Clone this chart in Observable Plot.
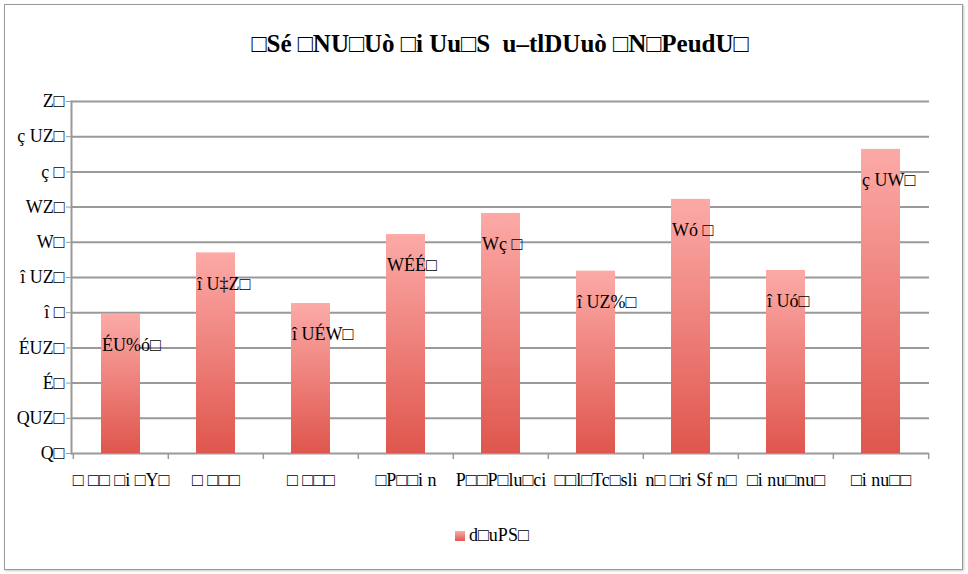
<!DOCTYPE html>
<html><head><meta charset="utf-8">
<script src="https://cdn.jsdelivr.net/npm/d3@7"></script>
<script src="https://cdn.jsdelivr.net/npm/@observablehq/plot@0.6"></script>
<style>
body{margin:0;background:#fff;}
#wrap{position:relative;width:968px;height:574px;overflow:hidden;font-family:"Liberation Serif",serif;background:#fff;}
#frame{position:absolute;left:4px;top:4px;width:959px;height:566px;border:1.5px solid #9a9a9a;box-sizing:border-box;box-shadow:1px 1px 2px #c8c8c8;}
#title{position:absolute;left:71px;width:858px;top:30px;text-align:center;font-weight:bold;font-size:25px;white-space:pre;}
#legend{position:absolute;top:525px;left:455px;font-size:18px;display:flex;align-items:center;gap:4px;}
#legend .sw{width:10px;height:10px;background:linear-gradient(#fbaaa7,#e0584f);}
#chart{position:absolute;left:0;top:0;}
</style></head>
<body>
<div id="wrap">
  <div id="frame"></div>
  <div id="chart"></div>
  <div id="title"></div>
  <div id="legend"><span class="sw"></span><span id="legtext"></span></div>
</div>
<script>
const titleText = "□Sé □NU□Uò □i Uu□S  u–tlDUuò □N□PeudU□";
const seriesName = "d□uPS□";
const categories = ["□ □□ □i □Y□", "□ □□□", "□ □□□", "□P□□i n", "P□□P□lu□ci", "□□l□Tc□sli", "n□ □ri Sf n□", "□i nu□nu□", "□i nu□□"];
const values = [1.98, 2.85, 2.13, 3.11, 3.41, 2.59, 3.61, 2.60, 4.32];
const valueLabels = ["ÉU%ó□", "î U‡Z□", "î UÉW□", "WÉÉ□", "Wç □", "î UZ%□", "Wó □", "î Uó□", "ç UW□"];
const yTicks = [0, 0.5, 1, 1.5, 2, 2.5, 3, 3.5, 4, 4.5, 5];
const yTickLabels = ["Q□", "QUZ□", "É□", "ÉUZ□", "î □", "î UZ□", "W□", "WZ□", "ç □", "ç UZ□", "Z□"];

document.getElementById("title").textContent = titleText;
document.getElementById("legtext").textContent = seriesName;

const idx = categories.map((c, i) => i);
const data = categories.map((c, i) => ({i, category: c, value: values[i], label: valueLabels[i]}));
const tickMap = new Map(yTicks.map((t, i) => [t, yTickLabels[i]]));
const step = (968 - 71 - 39) / categories.length;

const plot = Plot.plot({
  width: 968, height: 500,
  marginLeft: 71, marginRight: 39, marginTop: 101, marginBottom: 47,
  style: {fontFamily: "Liberation Serif", fontSize: "18px", background: "transparent", color: "#000"},
  x: {type: "band", domain: idx, paddingInner: 0.59, paddingOuter: 0.295, label: null},
  y: {domain: [0, 5], label: null},
  marks: [
    Plot.ruleY(yTicks, {stroke: "#999", strokeWidth: 2}),
    Plot.axisY({ticks: yTicks, tickFormat: d => tickMap.get(d), tickSize: 5, tickPadding: 2, stroke: "#999", fontSize: 18, label: null}),
    Plot.frame({anchor: "left", stroke: "#999", strokeWidth: 2}),
    Plot.barY(data, {x: "i", y: "value", fill: "url(#barGrad)", style: "filter: drop-shadow(1px 1px 1.5px rgba(0,0,0,0.25))"}),
    Plot.ruleX(idx, {x: d => d, y1: 0, y2: -0.085, dx: -step / 2, stroke: "#999", strokeWidth: 1.5}),
    Plot.ruleX(idx.slice(-1), {x: d => d, y1: 0, y2: -0.085, dx: step / 2, stroke: "#999", strokeWidth: 1.5}),
    Plot.axisX({tickSize: 0, tickPadding: 20, fontSize: 18, tickFormat: i => categories[i], label: null}),
    Plot.text(data, {x: "i", y: "value", text: "label", dy: 31, dx: -19, textAnchor: "start", fontSize: 18, fill: "#000"})
  ]
});

const ns = "http://www.w3.org/2000/svg";
const defs = document.createElementNS(ns, "defs");
const grad = document.createElementNS(ns, "linearGradient");
grad.setAttribute("id", "barGrad");
grad.setAttribute("x1", "0"); grad.setAttribute("y1", "0");
grad.setAttribute("x2", "0"); grad.setAttribute("y2", "1");
[["0%", "#fcaaa7"], ["100%", "#df564d"]].forEach(([o, c]) => {
  const s = document.createElementNS(ns, "stop");
  s.setAttribute("offset", o); s.setAttribute("stop-color", c);
  grad.appendChild(s);
});
defs.appendChild(grad);
plot.insertBefore(defs, plot.firstChild);
document.getElementById("chart").appendChild(plot);
</script>
</body></html>
